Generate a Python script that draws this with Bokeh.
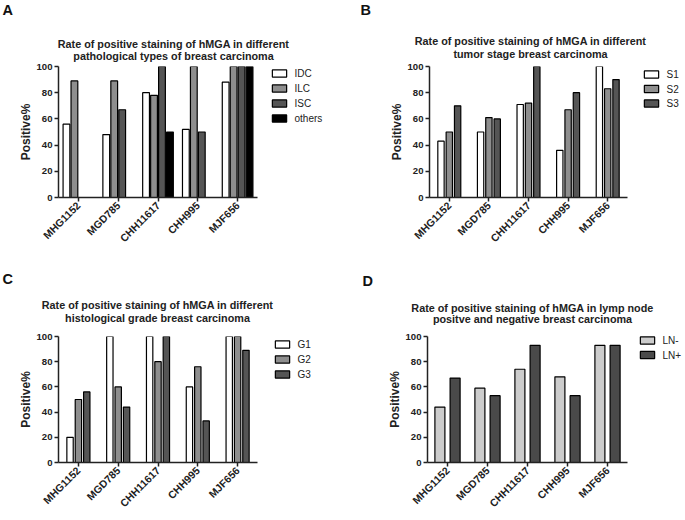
import math
from bokeh.plotting import figure
from bokeh.models import (ColumnDataSource, FactorRange, Range1d, FixedTicker,
                          Label)
from bokeh.transform import dodge
from bokeh.layouts import column, row
from bokeh.embed import file_html
from bokeh.resources import INLINE

NAN = float("nan")

categories = ["MHG1152", "MGD785", "CHH11617", "CHH995", "MJF656"]

# Panel A: pathological types
a_series = ["IDC", "ILC", "ISC", "others"]
a_idc = [56, 48, 80, 52, 88]
a_ilc = [89, 89, 78, 100, 100]
a_isc = [NAN, 67, 100, 50, 100]
a_others = [NAN, NAN, 50, NAN, 100]

# Panel B: tumor stage
b_series = ["S1", "S2", "S3"]
b_s1 = [43, 50, 71, 36, 100]
b_s2 = [50, 61, 72, 67, 83]
b_s3 = [70, 60, 100, 80, 90]

# Panel C: histological grade
c_series = ["G1", "G2", "G3"]
c_g1 = [20, 100, 100, 60, 100]
c_g2 = [50, 60, 80, 76, 100]
c_g3 = [56, 44, 100, 33, 89]

# Panel D: lymph node status
d_series = ["LN-", "LN+"]
d_neg = [44, 59, 74, 68, 93]
d_pos = [67, 53, 93, 53, 93]

y_ticks = [0, 20, 40, 60, 80, 100]

FONT = "Liberation Sans"
TXT = "#222222"


def make_panel(letter, title_lines, series, values, colors, offsets, bar_w,
               w, h, bl, bt, br, bb, title_cx, title_ys, letter_xy,
               leg_x, leg_y0, leg_step):
    p = figure(x_range=FactorRange(*categories), y_range=Range1d(0, 100),
               width=w, height=h,
               min_border_left=bl, min_border_top=bt,
               min_border_right=br, min_border_bottom=bb,
               output_backend="svg", toolbar_location=None)
    p.outline_line_color = None
    p.xgrid.visible = False
    p.ygrid.visible = False

    data = {"cat": categories}
    for s, v in zip(series, values):
        data[s] = v
    src = ColumnDataSource(data)

    for s, c, off in zip(series, colors, offsets):
        p.vbar(x=dodge("cat", off, range=p.x_range), top=s, bottom=0,
               width=bar_w, source=src, fill_color=c,
               line_color="black", line_width=1.2)

    # legend: swatch boxes (label backgrounds) and labels beside the plot
    for i, (s, c) in enumerate(zip(series, colors)):
        ly = leg_y0 + i * leg_step
        side = "above" if i < 3 else "left"
        p.add_layout(Label(x=leg_x + 7, y=ly, x_units="canvas",
                           y_units="canvas", text=" ", text_font_size="1px",
                           text_align="center", text_baseline="middle",
                           background_fill_color=c, border_line_color="black",
                           border_line_width=1.2, padding=(7, 3)), side)
        p.add_layout(Label(x=leg_x + 22, y=ly, x_units="canvas",
                           y_units="canvas", text=s, text_align="left",
                           text_baseline="middle", text_font=FONT,
                           text_font_size="10px", text_color=TXT), "right")

    for ax in (p.xaxis[0], p.yaxis[0]):
        ax.axis_line_width = 1.5
        ax.axis_line_color = TXT
        ax.major_tick_line_width = 1.5
        ax.major_tick_line_color = TXT
        ax.major_tick_in = 0
        ax.major_tick_out = 4
        ax.minor_tick_line_color = None
        ax.major_label_text_font = FONT
        ax.major_label_text_font_style = "bold"
        ax.major_label_text_color = TXT
    p.xaxis.major_label_text_font_size = "10.5px"
    p.yaxis.major_label_text_font_size = "9.6px"
    p.xaxis.major_label_orientation = math.pi / 4
    p.xaxis.major_label_standoff = 2
    p.yaxis.major_label_standoff = 2
    p.yaxis.ticker = FixedTicker(ticks=y_ticks)
    p.yaxis.axis_label = "Positive%"
    p.yaxis.axis_label_text_font = FONT
    p.yaxis.axis_label_text_font_style = "bold"
    p.yaxis.axis_label_text_font_size = "12px"
    p.yaxis.axis_label_text_color = TXT
    p.yaxis.axis_label_standoff = 0

    for line, ty in zip(title_lines, title_ys):
        p.add_layout(Label(x=title_cx, y=ty, x_units="canvas", y_units="canvas",
                           text=line, text_align="center",
                           text_baseline="middle", text_font=FONT,
                           text_font_style="bold", text_font_size="10.8px",
                           text_color=TXT), "above")
    p.add_layout(Label(x=letter_xy[0], y=letter_xy[1], x_units="canvas",
                       y_units="canvas", text=letter, text_align="left",
                       text_baseline="middle", text_font=FONT,
                       text_font_style="bold", text_font_size="14.5px",
                       text_color="#111111"), "above")
    return p


pA = make_panel("A", ["Rate of positive staining of hMGA in different",
                      "pathological types of breast carcinoma"],
                a_series, [a_idc, a_ilc, a_isc, a_others],
                ["white", "#8e8e8e", "#555555", "black"],
                [-0.3, -0.1, 0.1, 0.3], 0.17,
                342, 260, 58, 66, 85, 63, 173, [43, 55], (2, 9),
                272, 73, 15)

pB = make_panel("B", ["Rate of positive staining of hMGA in different",
                      "tumor stage breast carcinoma"],
                b_series, [b_s1, b_s2, b_s3],
                ["white", "#8e8e8e", "#555555"],
                [-0.21, 0.0, 0.21], 0.16,
                342, 260, 87, 66, 57, 63, 188, [40, 53], (18, 9),
                302, 74, 14.5)

pC = make_panel("C", ["Rate of positive staining of hMGA in different",
                      "histological grade breast carcinoma"],
                c_series, [c_g1, c_g2, c_g3],
                ["white", "#8e8e8e", "#555555"],
                [-0.21, 0.0, 0.21], 0.16,
                342, 259, 58, 76, 85, 52, 157, [44, 57], (2, 18),
                275, 84, 15)

pD = make_panel("D", ["Rate of positive staining of hMGA in lymp node",
                      "positve and negative breast carcinoma"],
                d_series, [d_neg, d_pos],
                ["#cccccc", "#4a4a4a"],
                [-0.19, 0.19], 0.25,
                342, 259, 85, 70, 57, 57, 190, [47, 58], (20, 20),
                298, 80, 14.5)

layout = column(row(pA, pB), row(pC, pD))
open("out.html", "w").write(file_html(layout, INLINE))
